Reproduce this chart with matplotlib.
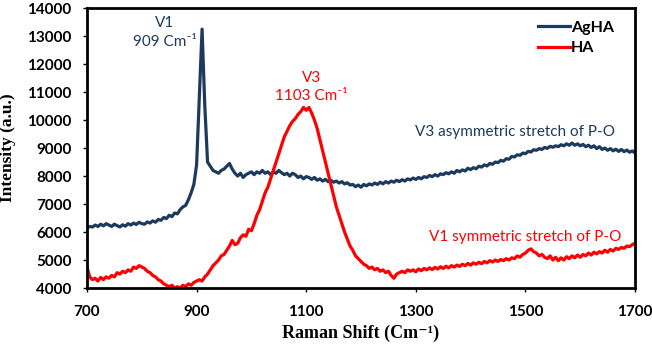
import matplotlib
matplotlib.use("Agg")
import matplotlib.pyplot as plt

x_start, x_step = 700, 5

agha = [6150, 6200, 6180, 6250, 6200, 6280, 6220, 6300, 6250, 6200, 6280, 6230, 6180, 6260, 6210, 6300, 6250, 6320, 6270, 6350,
        6300, 6280, 6360, 6320, 6400, 6350, 6450, 6420, 6520, 6480, 6600, 6550, 6680, 6650, 6800, 6900, 6950, 7150, 7400, 7700,
        8400, 10800, 13250, 10500, 8500, 8350, 8200, 8150, 8100, 8200, 8250, 8350, 8450, 8250, 8100, 8000, 8100, 7950, 8050, 8100,
        8150, 8050, 8150, 8100, 8200, 8100, 8150, 8050, 8150, 8100, 8200, 8120, 8050, 8100, 8000, 8100, 8050, 7950, 8000, 7900,
        7980, 7950, 7880, 7950, 7850, 7900, 7820, 7880, 7800, 7850, 7780, 7820, 7750, 7800, 7720, 7760, 7680, 7700, 7620, 7680,
        7600, 7700, 7650, 7720, 7680, 7750, 7700, 7780, 7720, 7800, 7750, 7820, 7780, 7850, 7800, 7870, 7820, 7900, 7860, 7930,
        7880, 7950, 7900, 7980, 7950, 8020, 7980, 8050, 8000, 8080, 8050, 8120, 8080, 8150, 8100, 8200, 8150, 8220, 8180, 8280,
        8230, 8300, 8260, 8350, 8320, 8400, 8360, 8450, 8420, 8500, 8480, 8560, 8530, 8620, 8600, 8700, 8680, 8760, 8740, 8820,
        8800, 8880, 8860, 8940, 8920, 8980, 8950, 9020, 8990, 9060, 9030, 9080, 9050, 9120, 9080, 9150, 9100, 9180, 9100, 9150,
        9080, 9130, 9050, 9100, 9020, 9080, 8980, 9050, 8950, 9000, 8920, 8980, 8900, 8960, 8880, 8950, 8870, 8930, 8850, 8900,
        8820]

ha = [4750, 4400, 4300, 4350, 4250, 4380, 4300, 4400, 4350, 4450, 4400, 4550, 4500, 4600, 4550, 4650, 4600, 4750, 4700, 4800,
      4750, 4700, 4600, 4550, 4450, 4400, 4300, 4250, 4150, 4100, 4050, 4100, 4000, 4050, 4000, 4100, 4050, 4150, 4100, 4200,
      4250, 4300, 4250, 4400, 4500, 4650, 4800, 4900, 5000, 5150, 5200, 5350, 5500, 5700, 5550, 5600, 5800, 5900, 5850, 6100,
      6050, 6300, 6600, 6800, 7100, 7400, 7600, 7900, 8200, 8500, 8800, 9100, 9400, 9600, 9800, 9950, 10050, 10200, 10300, 10450,
      10350, 10450, 10250, 10000, 9700, 9300, 8900, 8500, 8100, 7700, 7300, 6900, 6600, 6300, 6000, 5750, 5500, 5350, 5150, 5050,
      4950, 4850, 4800, 4700, 4750, 4650, 4700, 4600, 4650, 4550, 4600, 4450, 4350, 4500, 4550, 4600, 4550, 4650, 4600, 4650,
      4580, 4680, 4620, 4700, 4650, 4720, 4660, 4740, 4680, 4760, 4700, 4780, 4720, 4800, 4750, 4820, 4770, 4850, 4800, 4880,
      4820, 4900, 4850, 4920, 4870, 4950, 4900, 4980, 4930, 5000, 4950, 5020, 4980, 5050, 5000, 5080, 5050, 5150, 5100, 5200,
      5250, 5350, 5400, 5300, 5250, 5150, 5200, 5100, 5050, 5150, 5000, 5100, 4980, 5080, 5000, 5120, 5050, 5150, 5080, 5180,
      5100, 5200, 5150, 5250, 5180, 5280, 5220, 5300, 5250, 5350, 5280, 5380, 5320, 5420, 5380, 5450, 5420, 5500, 5480, 5550,
      5600]

x_ticks = [700, 900, 1100, 1300, 1500, 1700]
y_ticks = [4000, 5000, 6000, 7000, 8000, 9000, 10000, 11000, 12000, 13000, 14000]

x = [x_start + i * x_step for i in range(len(agha))]

navy = "#1c3a5e"
red = "#ff0000"
sans = ["Lato", "DejaVu Sans"]
serif = ["Liberation Serif", "DejaVu Serif"]

fig = plt.figure(figsize=(6.52, 3.5), dpi=100)
ax = fig.add_axes([0.1334, 0.177, 0.8406, 0.8])

ax.plot(x, agha, color=navy, lw=2.3, label="AgHA")
ax.plot(x, ha, color=red, lw=2.3, label="HA")

ax.set_xlim(700, 1700)
ax.set_ylim(4000, 14000)
ax.set_xticks(x_ticks)
ax.set_yticks(y_ticks)
ax.set_xticklabels([str(t) for t in x_ticks], fontfamily=sans, fontweight="bold", fontsize=11)
ax.set_yticklabels([str(t) for t in y_ticks], fontfamily=sans, fontweight="bold", fontsize=11)
ax.tick_params(axis="y", length=3, width=1, direction="out", pad=8)
ax.tick_params(axis="x", length=3, width=1, direction="out", pad=9)
for s in ax.spines.values():
    s.set_linewidth(2)
    s.set_color("black")

ax.set_xlabel("Raman Shift (Cm\u207b\u00b9)", fontfamily=serif, fontweight="bold",
              fontsize=13, labelpad=4)
ax.set_ylabel("Intensity (a.u.)", fontfamily=serif, fontweight="bold", fontsize=12.5, labelpad=8)

leg = ax.legend(loc="upper right", bbox_to_anchor=(0.962, 0.955), frameon=False, borderaxespad=0, borderpad=0,
                prop={"family": sans, "weight": "bold", "size": 11.5},
                handlelength=2.0, handletextpad=0.1, labelspacing=0.4)

afont = {"family": sans, "size": 11}
ax.text(842, 13450, "V1", color=navy, ha="center", va="center", **afont)
ax.text(842, 12800, "909 Cm\u207b\u00b9", color=navy, ha="center", va="center", **afont)
ax.text(1110, 11500, "V3", color=red, ha="center", va="center", **afont)
ax.text(1110, 10850, "1103 Cm\u207b\u00b9", color=red, ha="center", va="center", **afont)
ax.text(1481, 9560, "V3 asymmetric stretch of P-O", color=navy, ha="center", va="center", **afont)
ax.text(1500, 5820, "V1 symmetric stretch of P-O", color=red, ha="center", va="center", **afont)

fig.savefig("out.png", dpi=100)
